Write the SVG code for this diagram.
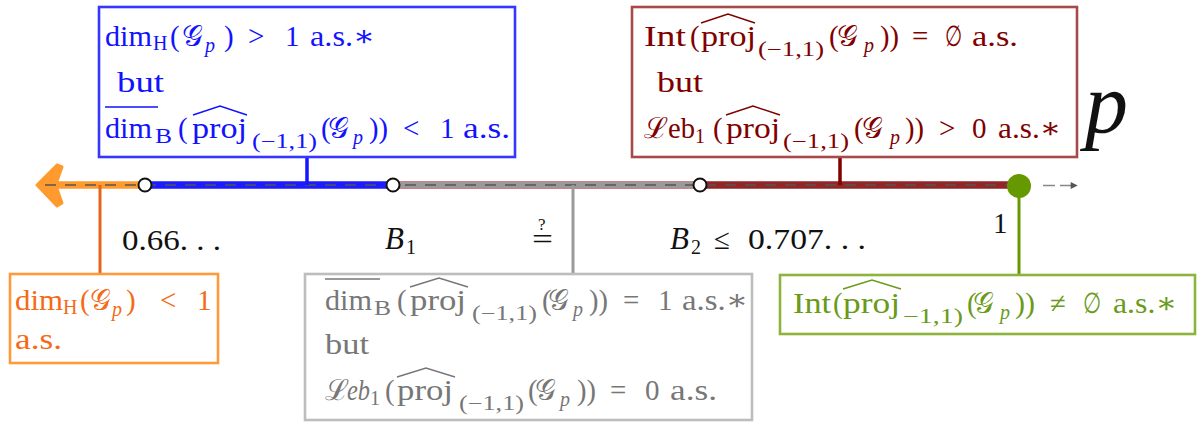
<svg xmlns="http://www.w3.org/2000/svg" width="1197" height="423" viewBox="0 0 1197 423">
<style>
.tx{font-family:"Liberation Serif","DejaVu Serif",serif;font-size:29px}
.sb{font-size:20px}
.it{font-style:italic}
.g{font-family:"DejaVu Serif","DejaVu Sans","Noto Sans",serif}
.box{fill:#fff;stroke-width:2.6}
.acc{fill:none;stroke-width:1.5}
.blue{fill:#1212ff}
.red{fill:#800000}
.orange{fill:#f56a16}
.gray{fill:#777}
.green{fill:#6a9a1a}
.blk{fill:#111}
.open{fill:#fff;stroke:#111;stroke-width:2}
</style>
<defs>
<marker id="ah" viewBox="0 0 10 10" refX="9" refY="5" markerWidth="17" markerHeight="7" markerUnits="userSpaceOnUse" orient="auto"><path d="M0,0 L10,5 L0,10 Z" fill="#555"/></marker>
</defs>

<g id="axis">
<line x1="50" y1="185" x2="145" y2="185" stroke="#ff9a2e" stroke-width="7.5"/>
<path d="M37,185 L57,165 L62,167 L57,181 L57,189 L62,203 L57,206 Z" fill="#ff9a2e" stroke="#ff9a2e" stroke-width="3" stroke-linejoin="round"/>
<line x1="145" y1="185" x2="393" y2="185" stroke="#1c1cff" stroke-width="7.5"/>
<line x1="393" y1="185" x2="700" y2="185" stroke="#cf8080" stroke-width="8"/>
<line x1="393" y1="185" x2="700" y2="185" stroke="#9a9a9a" stroke-width="6"/>
<line x1="700" y1="185" x2="1019" y2="185" stroke="#922626" stroke-width="7.5"/>
<line x1="45" y1="185" x2="1019" y2="185" stroke="#555" stroke-width="1.8" stroke-dasharray="11 9" opacity="0.75"/>
<line x1="1043" y1="185.5" x2="1077" y2="185.5" stroke="#888" stroke-width="1.5" stroke-dasharray="12 5" marker-end="url(#ah)"/>
<circle class="open" cx="145" cy="185" r="6.5"/>
<circle class="open" cx="393" cy="185" r="6.5"/>
<circle class="open" cx="700" cy="185" r="6.5"/>
</g>

<g id="connectors">
<line x1="307" y1="157" x2="307" y2="185" stroke="#1515ff" stroke-width="3.5"/>
<line x1="840" y1="157" x2="840" y2="185" stroke="#800000" stroke-width="3.5"/>
<line x1="100" y1="185" x2="100" y2="274" stroke="#e0661a" stroke-width="3"/>
<line x1="573" y1="185" x2="573" y2="274" stroke="#9a9a9a" stroke-width="3"/>
<line x1="1019" y1="186" x2="1019" y2="275" stroke="#669900" stroke-width="3"/>
</g>
<circle id="point-1" cx="1019" cy="186" r="12" fill="#669900"/>

<g id="labels" class="tx blk">
<text x="122" y="250" textLength="99" lengthAdjust="spacingAndGlyphs">0.66. . .</text>
<text><tspan class="it" x="385" y="249" style="font-size:31px">B</tspan><tspan class="sb" x="406" y="254">1</tspan></text>
<text x="532" y="249" textLength="21" lengthAdjust="spacingAndGlyphs">=</text>
<text x="538" y="230" style="font-size:17px">?</text>
<text><tspan class="it" x="670" y="249" style="font-size:31px">B</tspan><tspan class="sb" x="691" y="254">2</tspan><tspan x="714" y="249">≤</tspan><tspan x="748" y="249" textLength="118" lengthAdjust="spacingAndGlyphs">0.707. . .</tspan></text>
<text x="993" y="233">1</text>
<text class="it" x="1085" y="132" style="font-size:86px">p</text>
</g>

<g id="box-blue">
<rect class="box" x="99" y="7" width="416" height="150" stroke="#3636ff"/>
<text class="tx blue"><tspan x="105" y="46" textLength="47" lengthAdjust="spacingAndGlyphs">dim</tspan><tspan class="sb" x="153" y="50">H</tspan><tspan x="170" y="46">(</tspan><tspan class="g" x="182" y="46">𝒢</tspan><tspan class="sb it" x="205" y="52">p</tspan><tspan x="224" y="46">)</tspan><tspan x="248" y="46">&gt;</tspan><tspan x="285" y="46">1</tspan><tspan x="310" y="46" textLength="65" lengthAdjust="spacingAndGlyphs">a.s.∗</tspan></text>
<text class="tx blue" x="117" y="92" textLength="47" lengthAdjust="spacingAndGlyphs">but</text>
<text class="tx blue"><tspan x="105" y="138" textLength="47" lengthAdjust="spacingAndGlyphs">dim</tspan><tspan class="sb" x="155" y="143" textLength="17" lengthAdjust="spacingAndGlyphs">B</tspan><tspan x="178" y="138">(</tspan><tspan x="192" y="138" textLength="55" lengthAdjust="spacingAndGlyphs">proj</tspan><tspan class="sb" x="252" y="148" textLength="65" lengthAdjust="spacingAndGlyphs">(−1,1)</tspan><tspan x="321" y="138">(</tspan><tspan class="g" x="328" y="138">𝒢</tspan><tspan class="sb it" x="353" y="144">p</tspan><tspan x="369" y="138" textLength="19" lengthAdjust="spacingAndGlyphs">))</tspan><tspan x="403" y="138">&lt;</tspan><tspan x="440" y="138">1</tspan><tspan x="463" y="138" textLength="47" lengthAdjust="spacingAndGlyphs">a.s.</tspan></text>
<path class="acc" stroke="#1212ff" d="M105,107 H158 M193,115 L220,106 L247,115"/>
</g>

<g id="box-red">
<rect class="box" x="632" y="7" width="445" height="150" stroke="#a84a4a"/>
<text class="tx red"><tspan x="644" y="46" textLength="42" lengthAdjust="spacingAndGlyphs">Int</tspan><tspan x="690" y="46">(</tspan><tspan x="701" y="46" textLength="55" lengthAdjust="spacingAndGlyphs">proj</tspan><tspan class="sb" x="758" y="56" textLength="66" lengthAdjust="spacingAndGlyphs">(−1,1)</tspan><tspan x="829" y="46">(</tspan><tspan class="g" x="837" y="46">𝒢</tspan><tspan class="sb it" x="864" y="52">p</tspan><tspan x="880" y="46" textLength="19" lengthAdjust="spacingAndGlyphs">))</tspan><tspan x="912" y="46">=</tspan><tspan x="945" y="46" textLength="17" lengthAdjust="spacingAndGlyphs">∅</tspan><tspan x="972" y="46" textLength="46" lengthAdjust="spacingAndGlyphs">a.s.</tspan></text>
<text class="tx red" x="657" y="92" textLength="46" lengthAdjust="spacingAndGlyphs">but</text>
<text class="tx red"><tspan x="644" y="138">ℒ</tspan><tspan x="668" y="138" textLength="27" lengthAdjust="spacingAndGlyphs">eb</tspan><tspan class="sb" x="695" y="143">1</tspan><tspan x="713" y="138">(</tspan><tspan x="726" y="138" textLength="54" lengthAdjust="spacingAndGlyphs">proj</tspan><tspan class="sb" x="783" y="148" textLength="66" lengthAdjust="spacingAndGlyphs">(−1,1)</tspan><tspan x="854" y="138">(</tspan><tspan class="g" x="862" y="138">𝒢</tspan><tspan class="sb it" x="890" y="144">p</tspan><tspan x="905" y="138" textLength="19" lengthAdjust="spacingAndGlyphs">))</tspan><tspan x="939" y="138">&gt;</tspan><tspan x="972" y="138">0</tspan><tspan x="998" y="138" textLength="63" lengthAdjust="spacingAndGlyphs">a.s.∗</tspan></text>
<path class="acc" stroke="#800000" d="M701,23 L728,14 L755,23 M726,115 L753,106 L780,115"/>
</g>

<g id="box-orange">
<rect class="box" x="10" y="274" width="208" height="89" stroke="#ff9a3c"/>
<text class="tx orange"><tspan x="15" y="310" textLength="48" lengthAdjust="spacingAndGlyphs">dim</tspan><tspan class="sb" x="63" y="314">H</tspan><tspan x="80" y="310">(</tspan><tspan class="g" x="90" y="310">𝒢</tspan><tspan class="sb it" x="112" y="316">p</tspan><tspan x="126" y="310">)</tspan><tspan x="160" y="310">&lt;</tspan><tspan x="197" y="310">1</tspan></text>
<text class="tx orange" x="15" y="349" textLength="47" lengthAdjust="spacingAndGlyphs">a.s.</text>
</g>

<g id="box-gray">
<rect class="box" x="305" y="274" width="447" height="146" stroke="#bdbdbd"/>
<text class="tx gray"><tspan x="325" y="310" textLength="47" lengthAdjust="spacingAndGlyphs">dim</tspan><tspan class="sb" x="374" y="315" textLength="17" lengthAdjust="spacingAndGlyphs">B</tspan><tspan x="397" y="310">(</tspan><tspan x="410" y="310" textLength="56" lengthAdjust="spacingAndGlyphs">proj</tspan><tspan class="sb" x="472" y="320" textLength="65" lengthAdjust="spacingAndGlyphs">(−1,1)</tspan><tspan x="542" y="310">(</tspan><tspan class="g" x="548" y="310">𝒢</tspan><tspan class="sb it" x="573" y="316">p</tspan><tspan x="589" y="310" textLength="19" lengthAdjust="spacingAndGlyphs">))</tspan><tspan x="623" y="310">=</tspan><tspan x="658" y="310">1</tspan><tspan x="682" y="310" textLength="66" lengthAdjust="spacingAndGlyphs">a.s.∗</tspan></text>
<text class="tx gray" x="325" y="354" textLength="44" lengthAdjust="spacingAndGlyphs">but</text>
<text class="tx gray"><tspan x="325" y="400">ℒ</tspan><tspan class="it" x="347" y="400" textLength="23" lengthAdjust="spacingAndGlyphs">eb</tspan><tspan class="sb" x="370" y="405">1</tspan><tspan x="385" y="400">(</tspan><tspan x="397" y="400" textLength="56" lengthAdjust="spacingAndGlyphs">proj</tspan><tspan class="sb" x="459" y="410" textLength="65" lengthAdjust="spacingAndGlyphs">(−1,1)</tspan><tspan x="528" y="400">(</tspan><tspan class="g" x="535" y="400">𝒢</tspan><tspan class="sb it" x="560" y="406">p</tspan><tspan x="577" y="400" textLength="19" lengthAdjust="spacingAndGlyphs">))</tspan><tspan x="610" y="400">=</tspan><tspan x="645" y="400">0</tspan><tspan x="670" y="400" textLength="47" lengthAdjust="spacingAndGlyphs">a.s.</tspan></text>
<path class="acc" stroke="#777" d="M325,279 H380 M410,287 L439,278 L468,287 M397,377 L426,368 L455,377"/>
</g>

<g id="box-green">
<rect class="box" x="780" y="275" width="415" height="59" stroke="#8cb43c"/>
<text class="tx green"><tspan x="793" y="313" textLength="38" lengthAdjust="spacingAndGlyphs">Int</tspan><tspan x="833" y="313">(</tspan><tspan x="843" y="313" textLength="57" lengthAdjust="spacingAndGlyphs">proj</tspan><tspan class="sb" x="903" y="323" textLength="60" lengthAdjust="spacingAndGlyphs">−1,1)</tspan><tspan x="967" y="313">(</tspan><tspan class="g" x="973" y="313">𝒢</tspan><tspan class="sb it" x="1000" y="319">p</tspan><tspan x="1015" y="313" textLength="20" lengthAdjust="spacingAndGlyphs">))</tspan><tspan x="1050" y="313">≠</tspan><tspan x="1083" y="313" textLength="18" lengthAdjust="spacingAndGlyphs">∅</tspan><tspan x="1113" y="313" textLength="64" lengthAdjust="spacingAndGlyphs">a.s.∗</tspan></text>
<path class="acc" stroke="#6a9a1a" d="M843,289 L872,280 L901,289"/>
</g>
</svg>
